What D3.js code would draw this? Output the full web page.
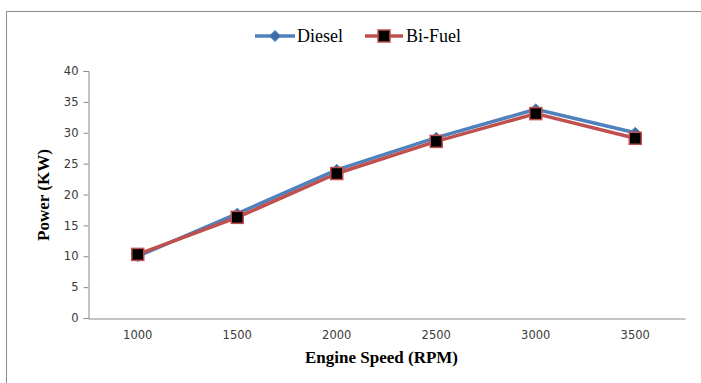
<!DOCTYPE html>
<html>
<head>
<meta charset="utf-8">
<script src="https://cdn.jsdelivr.net/npm/d3@7"></script>
<style>
  html, body { margin: 0; padding: 0; background: #fff; }
  svg { display: block; }
</style>
</head>
<body>
<svg id="chart" width="701" height="383"></svg>
<script>
// Engine speed categories (RPM)
const speeds = ["1000", "1500", "2000", "2500", "3000", "3500"];
// Power output (kW) for each fuel mode
const diesel = [10.0, 16.9, 24.0, 29.2, 33.8, 30.0];
const biFuel = [10.3, 16.3, 23.4, 28.6, 33.1, 29.1];
// Y axis ticks
const yTicks = [0, 5, 10, 15, 20, 25, 30, 35, 40];

const series = [
  { name: "Diesel", values: diesel, color: "#4F81BD", marker: "diamond" },
  { name: "Bi-Fuel", values: biFuel, color: "#C0504D", marker: "square" }
];

const svg = d3.select("#chart");

// Outer chart frame
svg.append("rect")
  .attr("x", 6.5).attr("y", 11.5)
  .attr("width", 760).attr("height", 420)
  .attr("fill", "none").attr("stroke", "#8c8c8c").attr("stroke-width", 1);

const plot = { left: 88, right: 685, top: 71, bottom: 318 };

const x = d3.scaleBand().domain(speeds).range([plot.left, plot.right]);
const y = d3.scaleLinear().domain([0, 40]).range([plot.bottom, plot.top]);

const tickFont = "'DejaVu Sans', Verdana, sans-serif";
const serif = "'Liberation Serif', 'Times New Roman', serif";

// Y axis
const yAxis = svg.append("g")
  .attr("transform", `translate(${plot.left + 0.5},0)`)
  .call(d3.axisLeft(y).tickValues(yTicks).tickSize(5).tickPadding(5));
yAxis.select(".domain").attr("stroke", "#8a8a8a");
yAxis.selectAll(".tick line").attr("stroke", "#8a8a8a");
yAxis.selectAll(".tick text")
  .attr("fill", "#3a3a3a").style("font-family", tickFont).style("font-size", "11.5px");

// X axis (no tick marks)
const xAxis = svg.append("g")
  .attr("transform", `translate(0,${plot.bottom + 0.5})`)
  .call(d3.axisBottom(x).tickSize(0).tickPadding(12).tickSizeOuter(0));
xAxis.select(".domain").attr("stroke", "#8a8a8a");
xAxis.selectAll(".tick text")
  .attr("fill", "#3a3a3a").style("font-family", tickFont).style("font-size", "11.5px");

// Axis titles
svg.append("text")
  .attr("x", (plot.left + plot.right) / 2 - 5).attr("y", 363)
  .attr("text-anchor", "middle")
  .style("font-family", serif).style("font-weight", "bold").style("font-size", "17px")
  .attr("fill", "#000").text("Engine Speed (RPM)");

svg.append("text")
  .attr("transform", "translate(49,195) rotate(-90)")
  .attr("text-anchor", "middle")
  .style("font-family", serif).style("font-weight", "bold").style("font-size", "17px")
  .attr("fill", "#000").text("Power (KW)");

const cx = d => x(d) + x.bandwidth() / 2;

const line = d3.line()
  .x((v, i) => cx(speeds[i]))
  .y(v => y(v));

function drawMarker(g, type, px, py, color) {
  if (type === "diamond") {
    g.append("path")
      .attr("d", `M${px},${py - 5.5}L${px + 5.5},${py}L${px},${py + 5.5}L${px - 5.5},${py}Z`)
      .attr("fill", "#3f6da3").attr("stroke", color).attr("stroke-width", 1);
  } else {
    g.append("rect")
      .attr("x", px - 6).attr("y", py - 6)
      .attr("width", 12).attr("height", 12)
      .attr("fill", "#000").attr("stroke", color).attr("stroke-width", 1.5);
  }
}

series.forEach(s => {
  const g = svg.append("g");
  g.append("path")
    .datum(s.values)
    .attr("d", line)
    .attr("fill", "none")
    .attr("stroke", s.color)
    .attr("stroke-width", 3.5)
    .attr("stroke-linejoin", "round");
  s.values.forEach((v, i) => drawMarker(g, s.marker, cx(speeds[i]), y(v), s.color));
});

// Legend
const legend = svg.append("g");
const legendItems = [
  { s: series[0], x0: 255, x1: 295, tx: 297 },
  { s: series[1], x0: 365, x1: 403, tx: 406 }
];
legendItems.forEach(it => {
  const ly = 36;
  legend.append("line")
    .attr("x1", it.x0).attr("x2", it.x1).attr("y1", ly).attr("y2", ly)
    .attr("stroke", it.s.color).attr("stroke-width", 3.5);
  drawMarker(legend, it.s.marker, (it.x0 + it.x1) / 2, ly, it.s.color);
  legend.append("text")
    .attr("x", it.tx).attr("y", ly + 6)
    .style("font-family", serif).style("font-size", "18px")
    .attr("fill", "#000").text(it.s.name);
});
</script>
</body>
</html>
